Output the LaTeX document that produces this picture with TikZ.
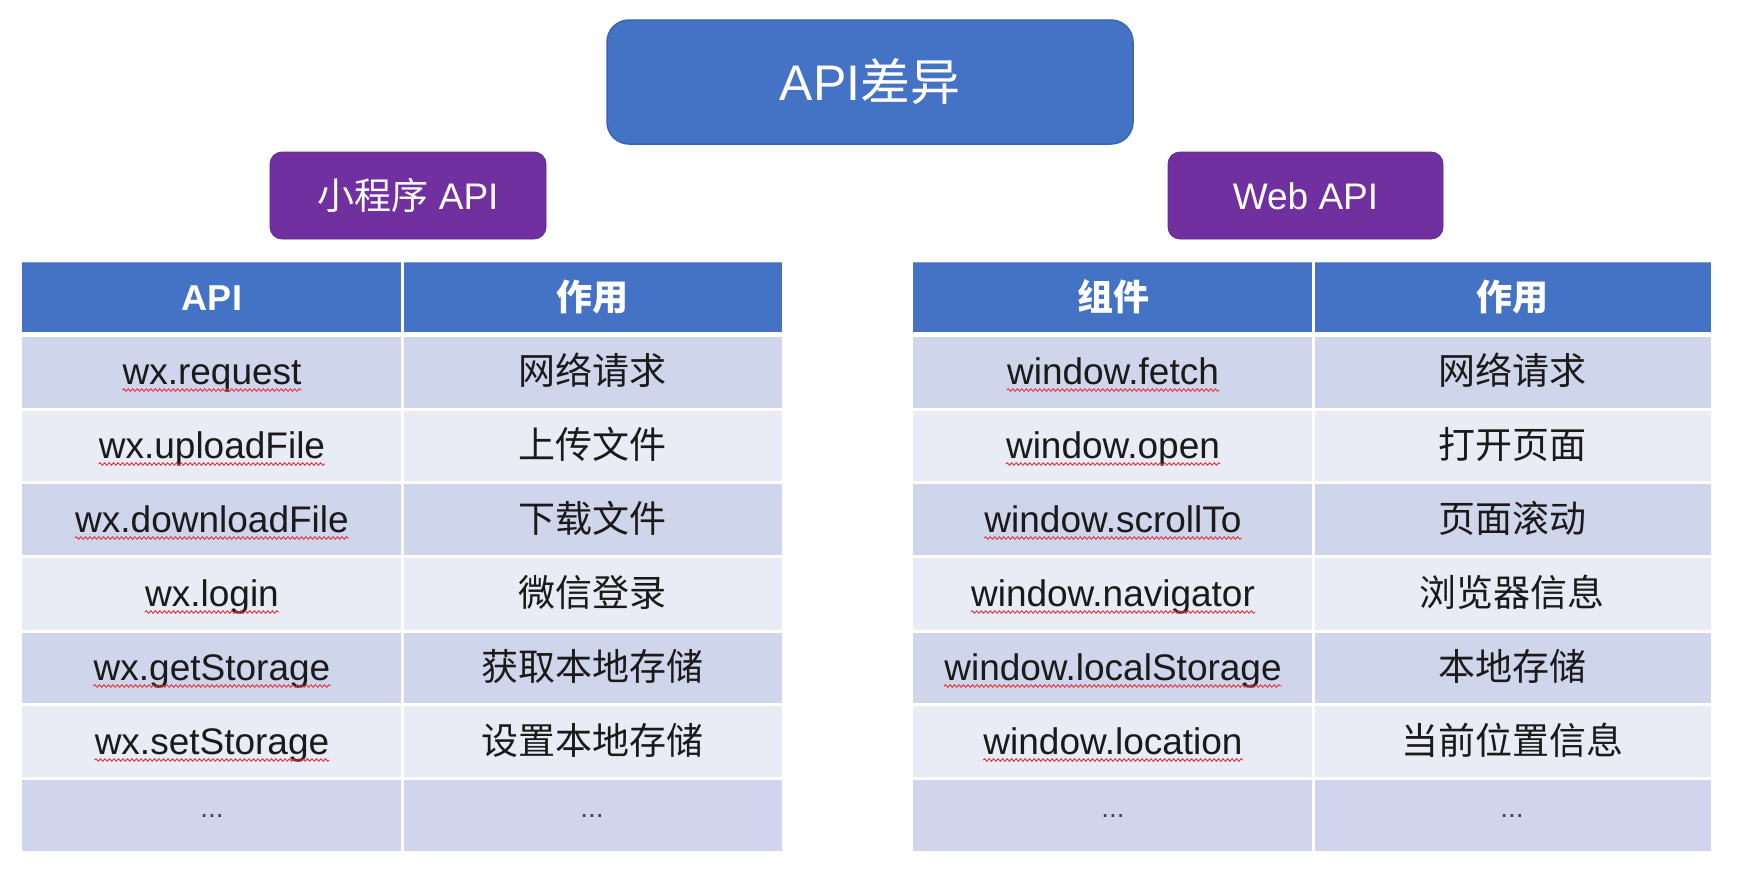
\documentclass[tikz,border=0pt]{standalone}
\usepackage{fontspec}
\setmainfont{Liberation Sans}
\newfontfamily\cjk{Noto Sans CJK SC}
\usetikzlibrary{decorations.pathmorphing}
\definecolor{hdrblue}{HTML}{4472C4}
\definecolor{titleedge}{HTML}{3A64AE}
\definecolor{lblpurple}{HTML}{7030A0}
\definecolor{banddark}{HTML}{CFD5EA}
\definecolor{bandlight}{HTML}{E9EBF5}
\definecolor{bandlast}{HTML}{D0D4EC}
\definecolor{spell}{HTML}{E3343C}
\definecolor{bodytxt}{HTML}{1A1A1A}
\tikzset{
  titlebox/.style={fill=hdrblue, draw=titleedge, line width=1.5pt, rounded corners=22pt},
  lblbox/.style={fill=lblpurple, draw=lblpurple!85!black, line width=0.8pt, rounded corners=12pt},
  bigtxt/.style={text=white, font=\fontsize{50}{60}\selectfont, inner sep=0pt, anchor=base},
  lbltxt/.style={text=white, font=\fontsize{37}{44}\selectfont, inner sep=0pt, anchor=base},
  hdrtxt/.style={text=white, font=\fontsize{36}{43}\selectfont\bfseries, inner sep=0pt, anchor=base},
  celltxt/.style={text=bodytxt, font=\fontsize{37}{44}\selectfont, inner sep=0pt, anchor=base},
  dotstxt/.style={text=bodytxt!80, font=\fontsize{28}{34}\selectfont, inner sep=0pt, anchor=base},
  sep/.style={draw=white, line width=3pt},
  wavy/.style={draw=spell, line width=0.9pt, decorate, decoration={snake, amplitude=1.3pt, segment length=4.5pt}}
}
\newcommand{\wcell}[3]{%
  \node[celltxt] (#1) at (#2) {#3};
  \draw[wavy] ([yshift=-6pt]#1.base west) -- ([yshift=-6pt]#1.base east);}
\begin{document}
\begin{tikzpicture}[x=1pt,y=-1pt]
\useasboundingbox (0,0) rectangle (1742,886);
\fill[white] (0,0) rectangle (1742,886);

% title and labels
\draw[titlebox] (607,20) rectangle (1133,144);
\node[bigtxt] (title) at (870,100) {API{\cjk 差异}};
\draw[lblbox] (270,152) rectangle (546,239);
\node[lbltxt] (lblL) at (408,209) {{\cjk 小程序} API};
\draw[lblbox] (1168,152) rectangle (1443,239);
\node[lbltxt] (lblR) at (1305.5,209) {Web API};

% ---------- tables backgrounds ----------
\foreach \xa/\xb in {22/782, 913/1711}{
  \fill[hdrblue] (\xa,262) rectangle (\xb,333);
  \fill[banddark] (\xa,333) rectangle (\xb,409);
  \fill[bandlight] (\xa,409) rectangle (\xb,482);
  \fill[banddark] (\xa,482) rectangle (\xb,556);
  \fill[bandlight] (\xa,556) rectangle (\xb,631);
  \fill[banddark] (\xa,631) rectangle (\xb,704);
  \fill[bandlight] (\xa,704) rectangle (\xb,778);
  \fill[bandlast] (\xa,778) rectangle (\xb,851);
  \draw[hdrblue!70!white, line width=1pt] (\xa,262.5) -- (\xb,262.5);
  \draw[draw=white, line width=5pt] (\xa,334) -- (\xb,334);
  \foreach \yy in {409,482,556,631,704,778}{
    \draw[sep] (\xa,\yy) -- (\xb,\yy);
  }
}
\draw[sep] (402,262) -- (402,851);
\draw[sep] (1313,262) -- (1313,851);

% ---------- left table ----------
\node[hdrtxt] (lh1) at (212,310) {API};
\node[hdrtxt] (lh2) at (592,310) {\cjk 作用};
\wcell{la1}{212,384}{wx.request}
\node[celltxt] (lb1) at (592,384) {\cjk 网络请求};
\wcell{la2}{212,458}{wx.uploadFile}
\node[celltxt] (lb2) at (592,458) {\cjk 上传文件};
\wcell{la3}{212,532}{wx.downloadFile}
\node[celltxt] (lb3) at (592,532) {\cjk 下载文件};
\wcell{la4}{212,606}{wx.login}
\node[celltxt] (lb4) at (592,606) {\cjk 微信登录};
\wcell{la5}{212,680}{wx.getStorage}
\node[celltxt] (lb5) at (592,680) {\cjk 获取本地存储};
\wcell{la6}{212,754}{wx.setStorage}
\node[celltxt] (lb6) at (592,754) {\cjk 设置本地存储};
\node[dotstxt] (la7) at (212,817) {...};
\node[dotstxt] (lb7) at (592,817) {...};

% ---------- right table ----------
\node[hdrtxt] (rh1) at (1113,310) {\cjk 组件};
\node[hdrtxt] (rh2) at (1512,310) {\cjk 作用};
\wcell{ra1}{1113,384}{window.fetch}
\node[celltxt] (rb1) at (1512,384) {\cjk 网络请求};
\wcell{ra2}{1113,458}{window.open}
\node[celltxt] (rb2) at (1512,458) {\cjk 打开页面};
\wcell{ra3}{1113,532}{window.scrollTo}
\node[celltxt] (rb3) at (1512,532) {\cjk 页面滚动};
\wcell{ra4}{1113,606}{window.navigator}
\node[celltxt] (rb4) at (1512,606) {\cjk 浏览器信息};
\wcell{ra5}{1113,680}{window.localStorage}
\node[celltxt] (rb5) at (1512,680) {\cjk 本地存储};
\wcell{ra6}{1113,754}{window.location}
\node[celltxt] (rb6) at (1512,754) {\cjk 当前位置信息};
\node[dotstxt] (ra7) at (1113,817) {...};
\node[dotstxt] (rb7) at (1512,817) {...};
\end{tikzpicture}
\end{document}
